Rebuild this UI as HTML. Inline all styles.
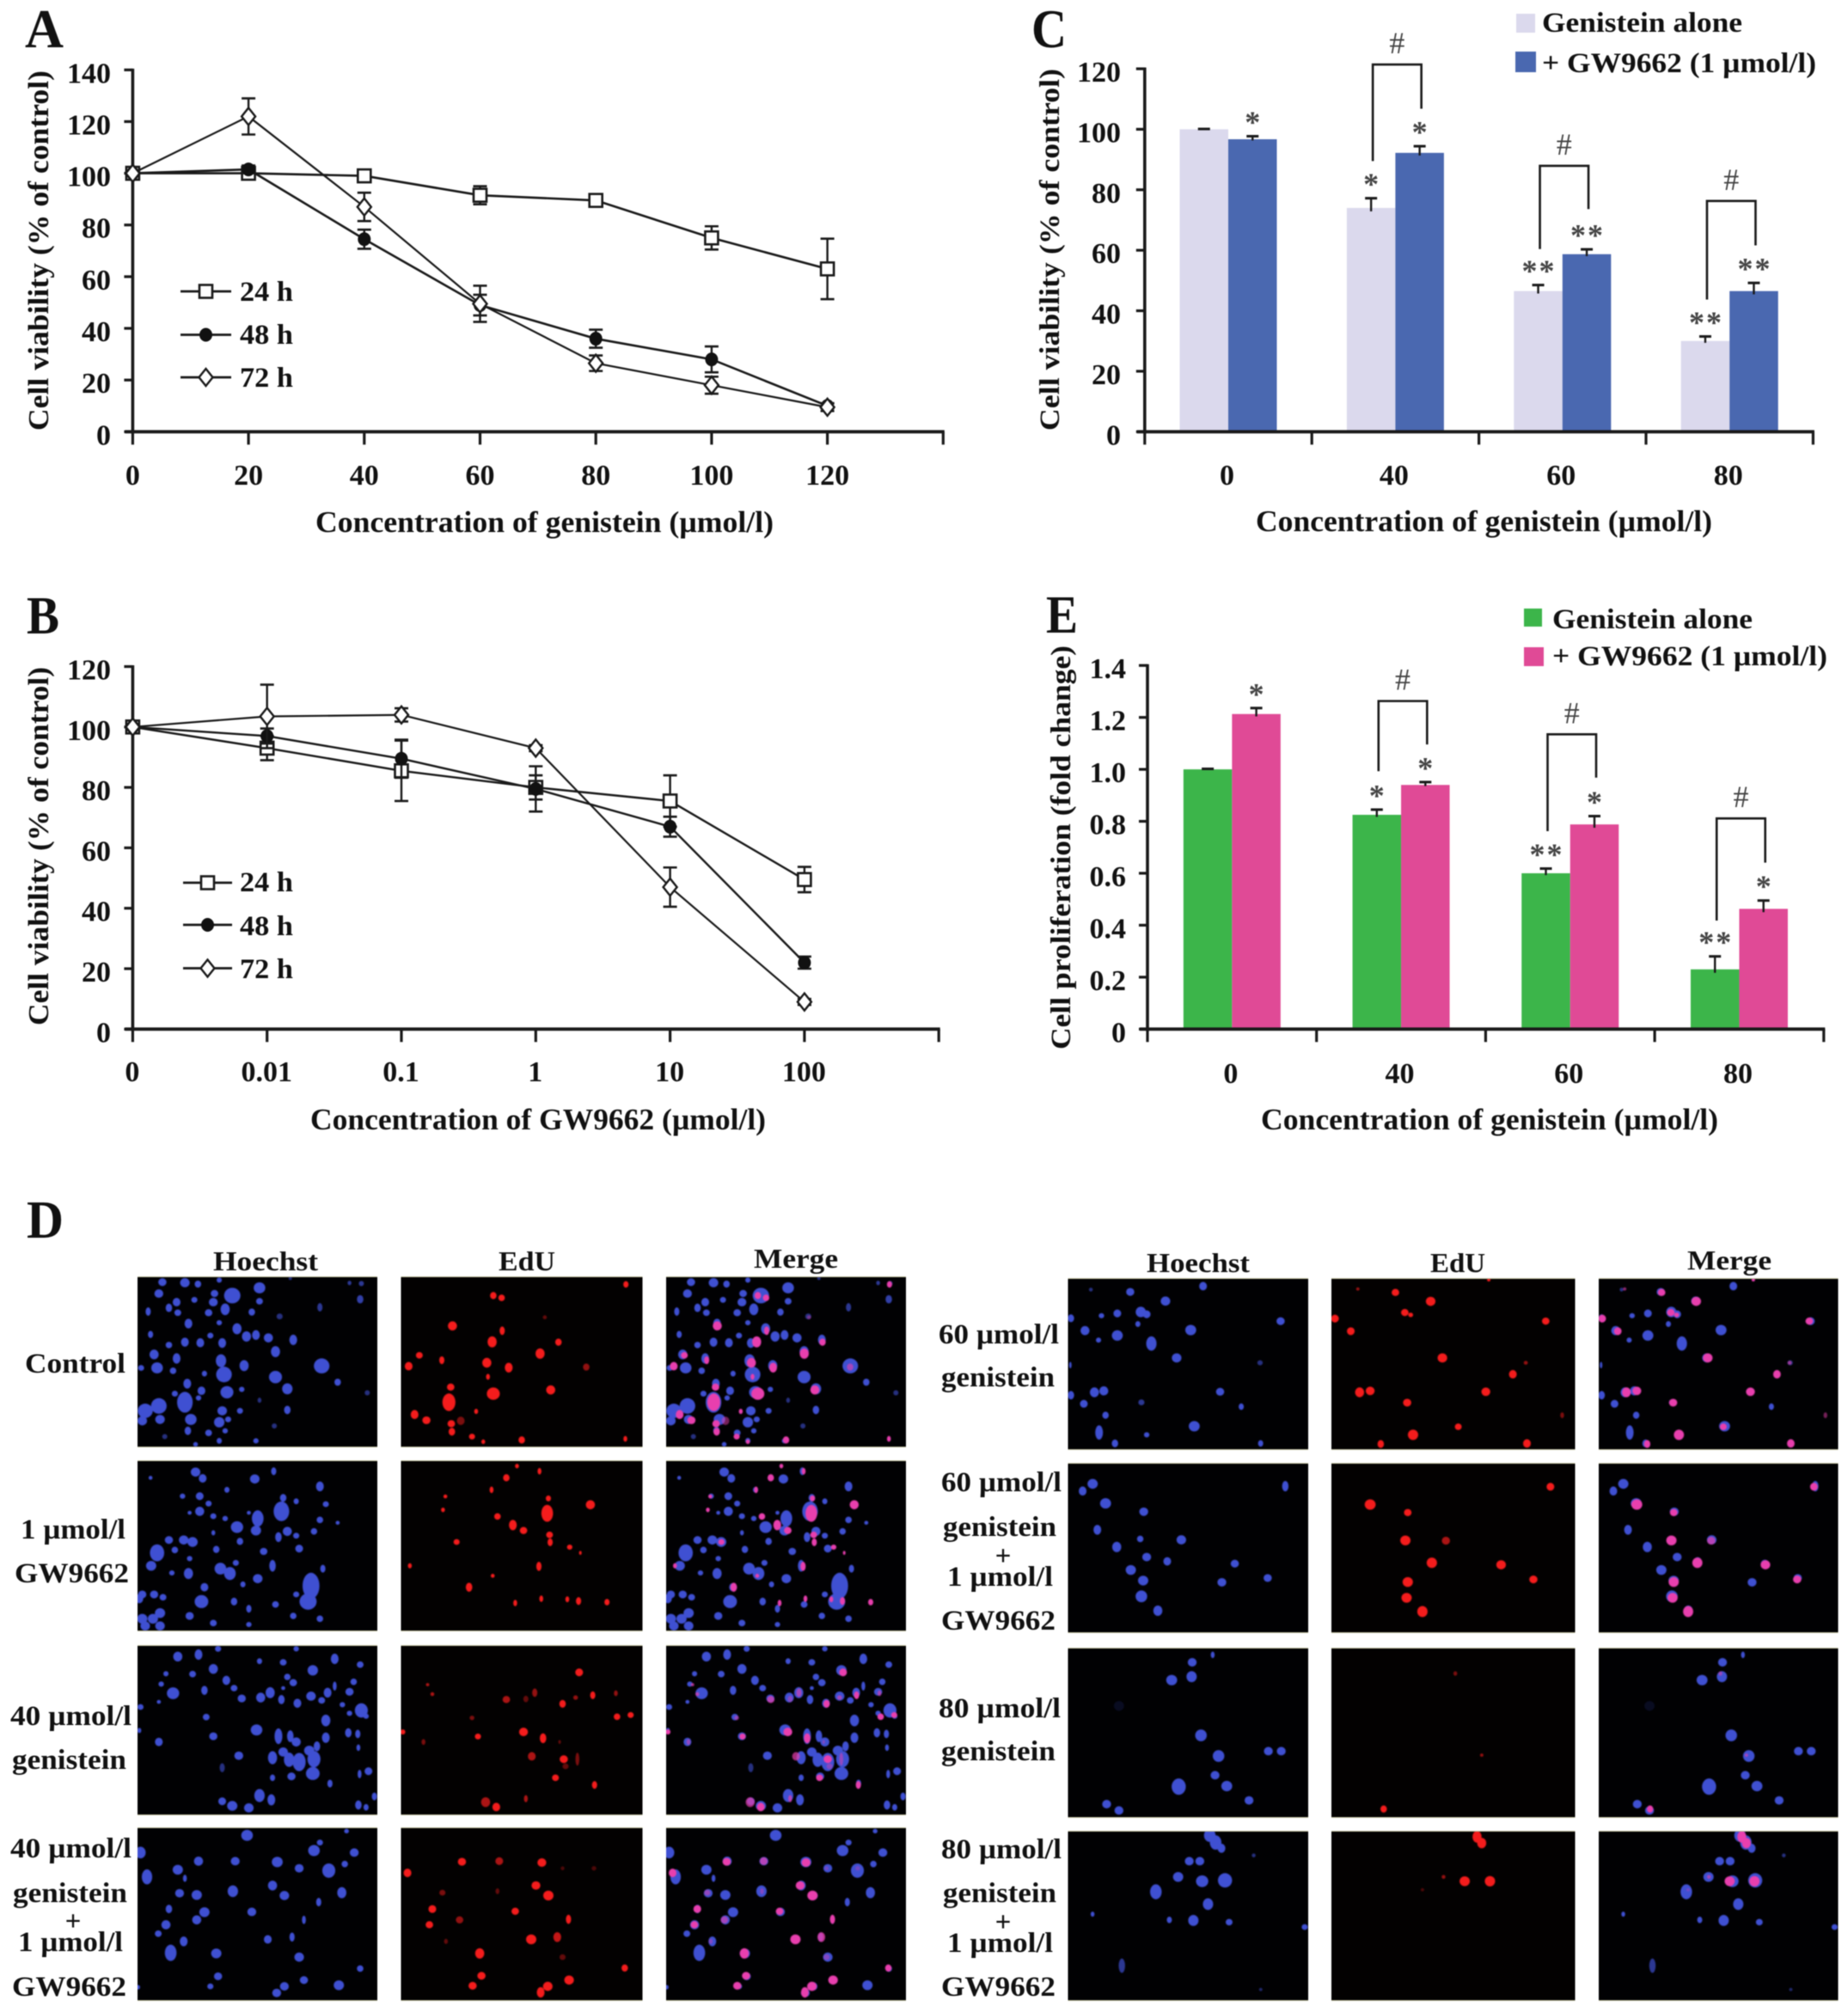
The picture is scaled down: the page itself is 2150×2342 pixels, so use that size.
<!DOCTYPE html>
<html lang="en">
<head>
<meta charset="utf-8">
<title>Genistein and GW9662 cell viability figure</title>
<style>
html,body{margin:0;padding:0;background:#fff;}
svg{display:block;}
#fig{filter:blur(0.45px);}
text{font-family:"Liberation Serif",serif;font-weight:bold;fill:#111;}
</style>
</head>
<body>
<svg id="fig" xmlns="http://www.w3.org/2000/svg" width="2150" height="2342" viewBox="0 0 2150 2342">
<rect x="0" y="0" width="2150" height="2342" fill="#fff"/>

<!-- Panel letters -->
<text x="29" y="55" font-size="64" textLength="45" lengthAdjust="spacingAndGlyphs">A</text>
<text x="31" y="737" font-size="62" textLength="38" lengthAdjust="spacingAndGlyphs">B</text>
<text x="1200" y="55" font-size="64" textLength="41" lengthAdjust="spacingAndGlyphs">C</text>
<text x="1217" y="736" font-size="62" textLength="37" lengthAdjust="spacingAndGlyphs">E</text>
<text x="31" y="1440" font-size="62" textLength="43" lengthAdjust="spacingAndGlyphs">D</text>

<!-- Axis titles -->
<text x="367" y="619" font-size="35" textLength="533" lengthAdjust="spacingAndGlyphs">Concentration of genistein (µmol/l)</text>
<text transform="translate(56,501) rotate(-90)" font-size="34" textLength="419" lengthAdjust="spacingAndGlyphs">Cell viability (% of control)</text>
<text x="361" y="1314" font-size="35" textLength="530" lengthAdjust="spacingAndGlyphs">Concentration of GW9662 (µmol/l)</text>
<text transform="translate(56,1193) rotate(-90)" font-size="34" textLength="417" lengthAdjust="spacingAndGlyphs">Cell viability (% of control)</text>
<text x="1461" y="618" font-size="35" textLength="531" lengthAdjust="spacingAndGlyphs">Concentration of genistein (µmol/l)</text>
<text transform="translate(1232,501) rotate(-90)" font-size="33" textLength="421" lengthAdjust="spacingAndGlyphs">Cell viability (% of control)</text>
<text x="1467" y="1314" font-size="35" textLength="532" lengthAdjust="spacingAndGlyphs">Concentration of genistein (µmol/l)</text>
<text transform="translate(1245,1221) rotate(-90)" font-size="33" textLength="470" lengthAdjust="spacingAndGlyphs">Cell proliferation (fold change)</text>

<!-- Bar chart legends -->
<rect x="1764" y="16" width="22" height="22" fill="#dbd9ed"/>
<text x="1794" y="37" font-size="33" textLength="233" lengthAdjust="spacingAndGlyphs">Genistein alone</text>
<rect x="1763" y="60" width="24" height="24" fill="#4a68b0"/>
<text x="1794" y="84" font-size="33" textLength="319" lengthAdjust="spacingAndGlyphs">+ GW9662 (1 µmol/l)</text>
<rect x="1773" y="708" width="21" height="21" fill="#3cb54a"/>
<text x="1806" y="731" font-size="33" textLength="233" lengthAdjust="spacingAndGlyphs">Genistein alone</text>
<rect x="1773" y="753" width="23" height="22" fill="#e04a96"/>
<text x="1806" y="774" font-size="33" textLength="320" lengthAdjust="spacingAndGlyphs">+ GW9662 (1 µmol/l)</text>

<!-- Line chart legend labels -->
<text x="279" y="350" font-size="33" textLength="62" lengthAdjust="spacingAndGlyphs">24 h</text>
<text x="279" y="400" font-size="33" textLength="62" lengthAdjust="spacingAndGlyphs">48 h</text>
<text x="279" y="450" font-size="33" textLength="62" lengthAdjust="spacingAndGlyphs">72 h</text>
<text x="279" y="1037" font-size="33" textLength="62" lengthAdjust="spacingAndGlyphs">24 h</text>
<text x="279" y="1088" font-size="33" textLength="62" lengthAdjust="spacingAndGlyphs">48 h</text>
<text x="279" y="1138" font-size="33" textLength="62" lengthAdjust="spacingAndGlyphs">72 h</text>

<!-- Micrograph column headers -->
<text x="248" y="1478" font-size="32" textLength="122" lengthAdjust="spacingAndGlyphs">Hoechst</text>
<text x="580" y="1478" font-size="32" textLength="66" lengthAdjust="spacingAndGlyphs">EdU</text>
<text x="877" y="1475" font-size="32" textLength="98" lengthAdjust="spacingAndGlyphs">Merge</text>
<text x="1334" y="1480" font-size="32" textLength="120" lengthAdjust="spacingAndGlyphs">Hoechst</text>
<text x="1664" y="1480" font-size="32" textLength="64" lengthAdjust="spacingAndGlyphs">EdU</text>
<text x="1963" y="1477" font-size="32" textLength="98" lengthAdjust="spacingAndGlyphs">Merge</text>

<!-- Micrograph row labels, left -->
<text x="29" y="1597" font-size="33" textLength="117" lengthAdjust="spacingAndGlyphs">Control</text>
<text x="24" y="1790" font-size="33" textLength="122" lengthAdjust="spacingAndGlyphs">1 µmol/l</text>
<text x="17" y="1841" font-size="33" textLength="133" lengthAdjust="spacingAndGlyphs">GW9662</text>
<text x="12" y="2007" font-size="33" textLength="141" lengthAdjust="spacingAndGlyphs">40 µmol/l</text>
<text x="14" y="2058" font-size="33" textLength="133" lengthAdjust="spacingAndGlyphs">genistein</text>
<text x="12" y="2161" font-size="33" textLength="141" lengthAdjust="spacingAndGlyphs">40 µmol/l</text>
<text x="15" y="2213" font-size="33" textLength="133" lengthAdjust="spacingAndGlyphs">genistein</text>
<text x="85" y="2246" font-size="33" text-anchor="middle">+</text>
<text x="21" y="2270" font-size="33" textLength="122" lengthAdjust="spacingAndGlyphs">1 µmol/l</text>
<text x="14" y="2322" font-size="33" textLength="133" lengthAdjust="spacingAndGlyphs">GW9662</text>

<!-- Micrograph row labels, right -->
<text x="1092" y="1563" font-size="33" textLength="140" lengthAdjust="spacingAndGlyphs">60 µmol/l</text>
<text x="1095" y="1613" font-size="33" textLength="132" lengthAdjust="spacingAndGlyphs">genistein</text>
<text x="1095" y="1735" font-size="33" textLength="140" lengthAdjust="spacingAndGlyphs">60 µmol/l</text>
<text x="1097" y="1787" font-size="33" textLength="132" lengthAdjust="spacingAndGlyphs">genistein</text>
<text x="1167" y="1821" font-size="33" text-anchor="middle">+</text>
<text x="1102" y="1845" font-size="33" textLength="123" lengthAdjust="spacingAndGlyphs">1 µmol/l</text>
<text x="1095" y="1896" font-size="33" textLength="133" lengthAdjust="spacingAndGlyphs">GW9662</text>
<text x="1092" y="1998" font-size="33" textLength="142" lengthAdjust="spacingAndGlyphs">80 µmol/l</text>
<text x="1095" y="2048" font-size="33" textLength="133" lengthAdjust="spacingAndGlyphs">genistein</text>
<text x="1095" y="2162" font-size="33" textLength="140" lengthAdjust="spacingAndGlyphs">80 µmol/l</text>
<text x="1097" y="2213" font-size="33" textLength="132" lengthAdjust="spacingAndGlyphs">genistein</text>
<text x="1167" y="2247" font-size="33" text-anchor="middle">+</text>
<text x="1102" y="2271" font-size="33" textLength="123" lengthAdjust="spacingAndGlyphs">1 µmol/l</text>
<text x="1095" y="2322" font-size="33" textLength="133" lengthAdjust="spacingAndGlyphs">GW9662</text>
</svg>

<script>
// ---------- Chart A data ----------
const aXLabels = ['0','20','40','60','80','100','120'];
const aYTicks = [0,20,40,60,80,100,120,140];
const a24 = [100,100,99,91.5,89.5,75,63];
const a24Err = [0,1,1.5,3.5,1.5,4.5,11.7];
const a48 = [100,101.5,74.5,49,36,28,10];
const a48Err = [0,1.5,3.7,4,3.5,5,1];
const a72 = [100,122,87,49.5,26.5,18,9.5];
const a72Err = [0,7,5.5,7,3,3.3,1.5];

// ---------- Chart B data ----------
const bXLabels = ['0','0.01','0.1','1','10','100'];
const bYTicks = [0,20,40,60,80,100,120];
const b24 = [100,93,85.5,80,75.5,49.5];
const b24Err = [0,4,10,4,8.5,4.2];
const b48 = [100,97,89.5,79.5,67,22];
const b48Err = [0,2.5,6.3,7.5,3.3,2];
const b72 = [100,103.5,104,93,47,9];
const b72Err = [0,10.5,2.2,1,6.5,1];

// ---------- Chart C data ----------
const cXLabels = ['0','40','60','80'];
const cYTicks = [0,20,40,60,80,100,120];
const cAlone = [100,74,46.5,30];
const cAloneErr = [0.1,3.2,2,1.5];
const cCombo = [96.7,92.2,58.7,46.5];
const cComboErr = [1,2.2,1.6,2.7];
const cAloneStars = ['','*','**','**'];
const cComboStars = ['*','*','**','**'];
const cBracketTop = [null,121.4,87.9,76.3];
const cBracketLeft = [null,89.5,60.4,43.7];
const cBracketRight = [null,106.8,73.6,61.6];

// ---------- Chart E data ----------
const eXLabels = ['0','40','60','80'];
const eYTicks = [0,0.2,0.4,0.6,0.8,1.0,1.2,1.4];
const eYLabels = ['0','0.2','0.4','0.6','0.8','1.0','1.2','1.4'];
const eAlone = [1.0,0.825,0.6,0.23];
const eAloneErr = [0.002,0.02,0.018,0.05];
const eCombo = [1.213,0.94,0.788,0.463];
const eComboErr = [0.023,0.011,0.032,0.032];
const eAloneStars = ['','*','**','**'];
const eComboStars = ['*','*','*','*'];
const eBracketTop = [null,1.263,1.135,0.811];
const eBracketLeft = [null,0.993,0.762,0.418];
const eBracketRight = [null,1.096,0.968,0.641];

// ---------- Micrograph nuclei: [x, y, rx, ry, opacity?] ----------
const ctrlBlue = [[274,305,8,12],[312,307,9,14],[334,312,5,11],[370,298,4,8],[268,345,7,13],[438,325,10,17],[362,345,7,11],[392,352,15,24],[360,375,8,13],[298,375,6,13],[328,367,10,9],[438,372,6,10],[380,400,7,18],[285,395,5,13],[250,408,4,13],[300,412,7,10],[352,412,6,11],[425,410,5,11],[472,425,7,9,.6],[540,393,4,13,.7],[608,365,5,13,.8],[610,310,4,8,.7],[590,308,3,7,.7],[490,292,5,5,.6],[318,450,6,15],[400,468,7,17],[370,447,5,8],[254,488,4,11],[375,518,6,15],[355,492,5,9],[416,495,7,16],[432,490,6,15],[453,500,7,14],[495,507,6,16],[285,525,5,10],[312,515,6,14],[338,517,6,14],[465,548,7,17],[260,558,7,15],[298,572,6,16],[373,580,8,20],[412,597,7,17],[543,598,12,23],[238,605,5,9],[265,605,11,17],[292,615,5,10],[378,628,12,24],[465,637,10,19],[345,625,4,9],[570,655,5,11],[316,660,6,15],[485,678,8,17],[340,685,6,13],[383,690,13,19],[408,680,8,8],[295,695,10,9],[312,725,12,32],[268,738,12,24],[245,755,13,22],[335,710,5,8],[375,755,9,14],[405,755,8,9],[485,752,5,13],[620,692,4,8,.6],[438,718,3,8,.6],[270,785,9,14],[240,790,8,14],[322,785,10,17],[370,795,8,16],[385,785,8,9],[317,825,5,13],[352,832,6,10],[380,825,5,8],[432,860,5,8],[370,860,4,9],[330,872,5,7],[463,808,4,8,.6],[278,845,4,8,.6]];
const ctrlRed = [[1057,313,4,10],[833,352,5,11],[847,360,5,10],[920,428,6,6,.4],[764,458,7,14],[848,475,4,13],[831,514,7,17],[943,515,5,11],[912,555,7,16],[708,561,6,10],[746,578,4,12],[822,587,7,15],[690,599,6,13],[859,604,6,15],[990,602,5,11,.6],[824,636,3,9],[761,672,6,11],[930,682,7,14],[833,695,11,19],[758,725,10,27],[700,768,6,14],[720,788,7,12],[804,757,3,8],[778,790,6,13,.5],[762,800,6,11],[763,828,5,12],[797,845,6,9],[881,857,5,11],[1056,853,3,9],[816,863,3,7]];
const gwBlue = [[330,968,9,14],[342,990,6,13],[254,988,3,6],[430,992,11,14],[462,965,4,12],[540,1018,6,15],[383,1030,4,9],[337,1052,6,12],[308,1052,5,8],[478,1058,5,12],[352,1078,7,9],[500,1070,4,9],[337,1105,7,14],[550,1080,7,9],[475,1105,12,30],[320,1110,5,6],[360,1122,5,9],[435,1130,9,25],[420,1110,6,6],[540,1135,5,10],[570,1145,5,6],[400,1160,12,18],[380,1130,6,8],[432,1172,12,15],[485,1175,7,14],[530,1175,5,10],[285,1205,14,12],[310,1205,10,14],[325,1212,14,15],[470,1195,5,15],[405,1210,5,11],[360,1180,3,8],[265,1250,11,26],[295,1240,5,10],[365,1238,5,11],[445,1245,6,11],[505,1235,6,12],[500,1190,5,9],[255,1295,8,15],[320,1270,6,8],[398,1285,6,9],[460,1295,5,18],[290,1320,5,8],[545,1305,4,12],[372,1305,9,18],[388,1322,9,20],[318,1322,7,17],[435,1340,9,14],[345,1370,6,13],[525,1365,13,40],[500,1395,6,9],[410,1360,4,9],[240,1395,9,12],[260,1395,9,12],[275,1405,9,10],[235,1410,6,14],[340,1420,14,20],[395,1420,5,12],[465,1430,6,10],[520,1420,15,25],[420,1445,4,12],[270,1460,10,15],[240,1480,8,15],[258,1480,8,15],[320,1470,8,12],[495,1470,5,10],[360,1495,6,10],[245,1505,12,14],[270,1505,12,14],[540,1480,5,10],[420,1500,6,8]];
const gwRed = [[873,947,3,7],[911,965,3,10],[855,988,5,11],[830,1030,3,10],[752,1053,3,6],[926,1060,4,9],[997,1082,7,14],[748,1100,3,7],[924,1112,9,26],[840,1123,5,10],[866,1153,6,16],[884,1172,6,11],[928,1187,6,10],[771,1212,7,9],[929,1213,4,12],[962,1230,5,8],[980,1250,2,6],[692,1295,3,8],[910,1297,4,14],[832,1330,3,6],[792,1370,5,14],[870,1425,3,10],[914,1410,3,10],[958,1412,3,9],[977,1418,4,12],[1025,1422,4,10]];
const g40Blue = [[300,112,7,15],[335,105,6,16],[368,85,6,9],[438,128,4,9],[500,85,6,8],[565,120,6,16],[478,132,7,10],[608,140,6,10],[528,160,8,16],[360,155,7,15],[325,173,9,10],[382,195,6,14],[485,183,5,10],[495,203,8,11],[280,172,4,8],[272,208,9,8],[395,222,7,10],[292,240,12,18],[345,230,5,14],[456,238,7,17],[440,255,7,15],[408,258,8,12],[478,222,5,6],[475,262,5,14],[502,275,6,14],[525,250,8,14],[553,238,6,15],[543,265,6,10],[565,215,3,14],[590,235,8,12],[597,200,5,10],[578,280,5,8],[268,270,6,6],[237,288,5,9],[610,300,10,22],[590,310,5,8],[348,323,12,10],[550,335,7,18],[618,320,5,8],[433,368,10,17],[470,390,6,24],[360,390,8,12],[268,410,6,13],[588,378,5,14],[490,390,5,18],[550,395,6,16],[604,382,4,13],[235,370,3,8],[500,410,7,14],[535,425,5,15],[605,430,3,10],[403,458,7,13],[478,445,8,14],[460,465,7,20],[488,472,8,22],[505,480,10,28],[522,440,10,15],[530,470,10,25],[375,500,4,14,.6],[528,520,15,20],[492,530,12,12],[460,535,4,10],[622,512,6,12],[607,522,3,13],[557,555,4,12],[438,597,8,20],[375,617,6,12],[392,633,8,15],[420,640,8,14],[458,612,6,17],[605,630,5,14],[618,638,4,10],[632,600,4,12]];
const g40Red = [[978,167,6,12],[722,210,5,5,.7],[730,243,3,6,.7],[855,262,7,11,.7],[903,238,4,13,.6],[888,260,4,10,.4],[950,277,5,12],[1001,247,4,12],[972,255,5,7,.6],[1040,240,3,9,.6],[1042,322,5,10],[1065,316,5,9],[797,326,5,7,.5],[680,375,4,8],[884,375,7,13],[807,391,6,9],[917,397,5,15],[715,410,3,9,.5],[898,460,6,13,.7],[952,470,7,12],[975,470,3,20,.5],[955,495,5,9,.4],[938,535,7,10],[1004,560,4,12],[888,608,3,11,.7],[820,620,7,15,.7],[838,637,6,13],[945,410,2,6,.4]];
const g40gwBlue = [[417,735,10,17],[237,795,8,18],[530,788,10,17],[540,760,6,9],[598,795,7,13],[585,720,4,7],[335,825,7,14],[397,825,7,13],[468,828,9,16],[505,850,9,13],[555,858,10,22],[582,835,5,10],[300,855,8,15],[248,880,8,23],[312,885,3,11],[460,910,7,15],[393,930,8,18],[303,937,7,13],[332,943,8,15],[480,945,9,14],[577,935,7,17],[538,968,4,13],[285,992,5,13],[345,1003,8,15],[425,1002,9,13],[332,1030,7,14],[513,1030,3,13],[280,1047,7,14],[267,1078,9,10],[310,1105,6,15],[452,1098,6,13],[493,1090,4,14],[288,1145,9,25],[365,1147,8,15],[505,1160,10,14],[608,1200,5,10],[368,1227,9,12],[513,1240,11,12],[480,1262,10,13],[467,1285,7,13],[572,1258,8,15],[355,1262,5,9],[233,1265,3,7]];
const g40gwRed = [[780,827,7,12],[843,825,6,12,.7],[915,830,7,13],[688,866,6,13],[905,910,8,13],[926,945,9,15],[747,935,5,9,.5],[840,930,3,9,.4],[950,850,3,6,.3],[1003,850,4,7,.3],[730,992,6,12],[870,1000,7,11],[776,1030,6,11,.6],[960,1028,4,14],[725,1047,7,11],[897,1098,8,15],[941,1090,6,15,.8],[753,1105,3,8,.4],[810,1147,7,16],[950,1160,5,9,.4],[1055,1198,5,11],[813,1225,9,12],[961,1240,13,14],[925,1262,10,14],[913,1283,6,16],[798,1260,8,12]];
const g60Blue = [[344,160,8,12],[468,140,6,13],[277,152,3,6,.6],[404,192,10,14],[243,252,5,12],[295,243,5,8],[322,235,6,12],[362,230,8,16],[372,238,6,12],[357,272,4,9],[600,262,8,12],[267,295,7,14],[322,312,11,16],[447,293,14,16],[290,328,4,8],[380,340,8,22],[423,390,8,14],[242,415,2,10],[565,407,5,8,.6],[283,510,7,15],[299,505,7,14],[243,520,5,13],[497,508,8,12],[265,550,6,12],[363,545,6,9,.7],[533,560,4,10],[302,590,5,11],[453,628,15,16],[291,650,6,22],[372,658,6,8],[318,688,5,12],[566,688,4,10]];
const g60Red = [[796,162,8,11],[856,193,8,14],[732,150,3,5,.6],[955,118,5,5],[812,232,6,11],[822,240,5,7],[693,253,6,12],[1052,262,7,11],[720,297,6,12],[876,390,8,14],[1018,407,5,6,.6],[996,447,6,13],[735,510,7,15],[753,505,7,13],[950,508,8,13],[816,546,10,12],[1080,590,3,9,.5],[903,630,10,10],[826,658,8,16],[771,690,5,12],[1020,688,6,13]];
const g60gwBlue = [[280,830,8,15],[263,855,6,14],[608,838,5,16],[302,898,9,16],[367,927,12,13],[288,990,6,15],[361,1022,5,10],[431,1025,11,14],[321,1050,7,16],[372,1085,8,13],[407,1100,6,13],[522,1108,7,12],[345,1130,8,15],[578,1158,8,12],[500,1173,11,13],[366,1167,8,15],[363,1222,9,18],[391,1272,7,16]];
const g60gwRed = [[1060,840,6,12],[753,902,10,16],[817,930,8,11],[813,1027,10,15],[882,1028,9,12,.7],[858,1105,8,16],[976,1112,9,14],[1031,1163,8,12],[817,1172,8,15],[815,1227,8,15],[842,1275,8,17]];
const g80Blue = [[450,133,7,13],[485,107,3,10],[449,183,8,17],[415,195,9,16],[325,285,8,15,.15],[465,388,9,18],[495,460,9,18],[580,443,9,13],[602,443,9,13],[489,527,9,13],[509,565,11,16],[427,567,11,25],[547,615,9,13],[304,628,10,13],[325,650,7,13]];
const g80Red = [[776,645,5,11],[898,172,3,7,.5],[943,457,3,5,.6]];
const g80gwBlue = [[480,735,9,20],[490,760,9,22],[500,780,6,14],[445,825,9,13],[463,825,9,13],[426,880,14,15],[467,895,15,18],[506,892,11,22],[388,932,9,23],[477,975,8,18],[411,1030,4,10],[452,1032,8,17],[513,1038,8,10],[642,1055,5,9],[280,1010,3,8],[330,1190,5,22,.7],[555,805,3,6,.6],[567,1273,3,5,.5]];
const g80gwRed = [[935,740,7,18],[943,762,7,16],[914,895,8,15],[957,895,8,16],[878,880,3,6,.6],[842,925,3,5,.3]];

const fig = document.getElementById('fig');
const NS = 'http://www.w3.org/2000/svg';
const INK = '#1a1a1a';

function make(tag, name, attrs, parent) {
  const el = document.createElementNS(NS, tag);
  
  
  for (const k in attrs) el.setAttribute(k, attrs[k]);
  (parent || fig).appendChild(el);
  return el;
}
function line(name, x1, y1, x2, y2, w, parent) {
  return make('line', name, {x1, y1, x2, y2, stroke: INK, 'stroke-width': w}, parent);
}
function label(name, x, y, str, size, anchor, parent) {
  const t = make('text', name, {x, y, 'font-size': size, 'text-anchor': anchor}, parent);
  t.textContent = str;
  return t;
}

// ---------- Shared axes ----------
function drawAxes(id, cfg) {
  const g = make('g', id + '-axes', {});
  line(id + '-y-axis', cfg.x0, cfg.y(cfg.yTicks[cfg.yTicks.length - 1]) - 1.5, cfg.x0, cfg.y(0) + 2, 3.6, g);
  line(id + '-x-axis', cfg.x0 - 9, cfg.y(0), cfg.xEnd + 1.5, cfg.y(0), 3.8, g);
  cfg.yTicks.forEach(function (v, i) {
    line(id + '-y-tick', cfg.x0 - 10, cfg.y(v), cfg.x0, cfg.y(v), 3.2, g);
    label(id + '-y-tick-label', cfg.labelRight, cfg.y(v) + 15, cfg.yLabels ? cfg.yLabels[i] : String(v), 34, 'end', g);
  });
  cfg.xTickPositions.forEach(function (x) {
    line(id + '-x-tick', x, cfg.y(0), x, cfg.y(0) + 15, 3.2, g);
  });
  cfg.xLabels.forEach(function (s, i) {
    label(id + '-x-tick-label', cfg.xLabelX(i), cfg.xLabelY, s, 34, 'middle', g);
  });
}

// ---------- Markers ----------
function marker(kind, name, cx, cy, parent) {
  if (kind === 'square') {
    make('rect', name, {x: cx - 7.5, y: cy - 7.5, width: 15, height: 15, fill: '#fff', stroke: INK, 'stroke-width': 2.6}, parent);
  } else if (kind === 'circle') {
    make('ellipse', name, {cx, cy, rx: 7.5, ry: 8, fill: '#111'}, parent);
  } else {
    const pts = [[cx, cy - 10], [cx + 8, cy], [cx, cy + 10], [cx - 8, cy]].map(function (p) { return p.join(','); }).join(' ');
    make('polygon', name, {points: pts, fill: '#fff', stroke: INK, 'stroke-width': 2.4}, parent);
  }
}

// ---------- Line charts ----------
function drawLineSeries(id, sname, kind, values, errs, xf, yf, lw) {
  const g = make('g', id + '-series-' + sname, {});
  const pts = values.map(function (v, i) { return xf(i) + ',' + yf(v); }).join(' ');
  make('polyline', id + '-line-' + sname, {points: pts, fill: 'none', stroke: INK, 'stroke-width': lw}, g);
  values.forEach(function (v, i) {
    if (errs[i] > 0) {
      const top = yf(v + errs[i]);
      const bot = yf(v - errs[i]);
      line(id + '-error-stem-' + sname, xf(i), top, xf(i), bot, 2.4, g);
      line(id + '-error-cap-' + sname, xf(i) - 8, top, xf(i) + 8, top, 2.6, g);
      line(id + '-error-cap-' + sname, xf(i) - 8, bot, xf(i) + 8, bot, 2.6, g);
    }
  });
  values.forEach(function (v, i) {
    marker(kind, id + '-point-' + sname, xf(i), yf(v), g);
  });
}
function drawLineLegend(id, x1, x2, ys) {
  const kinds = ['square', 'circle', 'diamond'];
  const names = ['24h', '48h', '72h'];
  ys.forEach(function (y, i) {
    const g = make('g', id + '-legend-key-' + names[i], {});
    line(id + '-legend-line-' + names[i], x1, y, x2, y, 2.8, g);
    marker(kinds[i], id + '-legend-marker-' + names[i], (x1 + x2) / 2, y, g);
  });
}

// Chart A
const aX = function (i) { return 154.4 + 134.7 * i; };
const aY = function (v) { return 502.3 - 3.007 * v; };
drawAxes('chart-a', {x0: 154.4, xEnd: aX(7), y: aY, yTicks: aYTicks, labelRight: 129,
  xTickPositions: aXLabels.concat(['']).map(function (_, i) { return aX(i); }),
  xLabels: aXLabels, xLabelX: aX, xLabelY: 564});
drawLineSeries('chart-a', '24h', 'square', a24, a24Err, aX, aY, 2.6);
drawLineSeries('chart-a', '48h', 'circle', a48, a48Err, aX, aY, 2.6);
drawLineSeries('chart-a', '72h', 'diamond', a72, a72Err, aX, aY, 2.2);
drawLineLegend('chart-a', 210, 269, [339, 389.5, 439]);

// Chart B
const bX = function (i) { return 154.4 + 156.3 * i; };
const bY = function (v) { return 1197.3 - 3.515 * v; };
drawAxes('chart-b', {x0: 154.4, xEnd: bX(6), y: bY, yTicks: bYTicks, labelRight: 129,
  xTickPositions: bXLabels.concat(['']).map(function (_, i) { return bX(i); }),
  xLabels: bXLabels, xLabelX: function (i) { return bX(i) - 0.5; }, xLabelY: 1258});
drawLineSeries('chart-b', '24h', 'square', b24, b24Err, bX, bY, 2.4);
drawLineSeries('chart-b', '48h', 'circle', b48, b48Err, bX, bY, 2.4);
drawLineSeries('chart-b', '72h', 'diamond', b72, b72Err, bX, bY, 2.2);
drawLineLegend('chart-b', 213, 270, [1027, 1076, 1126.5]);

// ---------- Bar charts ----------
function drawBars(id, cfg) {
  const g = make('g', id + '-bars', {});
  const bw = cfg.barWidth;
  const centers = cfg.aloneVals.map(function (_, i) { return cfg.x0 + cfg.step * (i + 0.5); });
  cfg.aloneVals.forEach(function (v, i) {
    make('rect', id + '-bar-alone', {x: centers[i] - bw, y: cfg.y(v), width: bw, height: cfg.y(0) - cfg.y(v), fill: cfg.aloneColor}, g);
  });
  cfg.comboVals.forEach(function (v, i) {
    make('rect', id + '-bar-combo', {x: centers[i], y: cfg.y(v), width: bw, height: cfg.y(0) - cfg.y(v), fill: cfg.comboColor}, g);
  });
  function errors(vals, errs, stars, offset, sname) {
    vals.forEach(function (v, i) {
      const cx = centers[i] + offset;
      const top = cfg.y(v + errs[i]);
      const low = cfg.y(v) + Math.min(4, (cfg.y(v) - top) * 0.4);
      line(id + '-error-stem-' + sname, cx, top, cx, low, 2.4, g);
      line(id + '-error-cap-' + sname, cx - 7, top, cx + 7, top, 3, g);
      if (stars[i]) {
        const st = label(id + '-significance-' + sname, cx + 1, top - 21.5 + 17, stars[i], 36, 'middle', g);
        st.style.fill = '#444';
        st.style.letterSpacing = '2px';
      }
    });
  }
  errors(cfg.aloneVals, cfg.aloneErrs, cfg.aloneStars, -bw / 2, 'alone');
  errors(cfg.comboVals, cfg.comboErrs, cfg.comboStars, bw / 2, 'combo');
  cfg.bracketTop.forEach(function (t, i) {
    if (t === null) return;
    const lx = centers[i] - bw / 2 + 2;
    const rx = centers[i] + bw / 2 + 2;
    const p = 'M' + lx + ' ' + cfg.y(cfg.bracketLeft[i]) + 'V' + cfg.y(t) + 'H' + rx + 'V' + cfg.y(cfg.bracketRight[i]);
    make('path', id + '-bracket', {d: p, fill: 'none', stroke: INK, 'stroke-width': 2.6}, g);
    const h = label(id + '-hash', (lx + rx) / 2, cfg.y(t) - 13, '#', 36, 'middle', g);
    h.style.fontWeight = 'normal';
    h.style.fill = '#444';
  });
}

// Chart C
const cStep = 194.4;
const cY = function (v) { return 502.3 - 3.519 * v; };
drawBars('chart-c', {x0: 1331.8, step: cStep, y: cY, barWidth: 56.5,
  aloneVals: cAlone, aloneErrs: cAloneErr, aloneStars: cAloneStars, aloneColor: '#dbd9ed',
  comboVals: cCombo, comboErrs: cComboErr, comboStars: cComboStars, comboColor: '#4a68b0',
  bracketTop: cBracketTop, bracketLeft: cBracketLeft, bracketRight: cBracketRight});
drawAxes('chart-c', {x0: 1331.8, xEnd: 1331.8 + 4 * cStep, y: cY, yTicks: cYTicks, labelRight: 1304,
  xTickPositions: [0, 1, 2, 3, 4].map(function (i) { return 1331.8 + cStep * i; }),
  xLabels: cXLabels, xLabelX: function (i) { return 1331.8 + cStep * (i + 0.5) - 1.5; }, xLabelY: 564});

// Chart E
const eStep = 196.7;
const eY = function (v) { return 1197.3 - 302.2 * v; };
drawBars('chart-e', {x0: 1335, step: eStep, y: eY, barWidth: 56.5,
  aloneVals: eAlone, aloneErrs: eAloneErr, aloneStars: eAloneStars, aloneColor: '#3cb54a',
  comboVals: eCombo, comboErrs: eComboErr, comboStars: eComboStars, comboColor: '#e04a96',
  bracketTop: eBracketTop, bracketLeft: eBracketLeft, bracketRight: eBracketRight});
drawAxes('chart-e', {x0: 1335, xEnd: 1335 + 4 * eStep, y: eY, yTicks: eYTicks, yLabels: eYLabels, labelRight: 1310,
  xTickPositions: [0, 1, 2, 3, 4].map(function (i) { return 1335 + eStep * i; }),
  xLabels: eXLabels, xLabelX: function (i) { return 1335 + eStep * (i + 0.5) - 1.5; }, xLabelY: 1260});

// ---------- Micrographs ----------
const BLUE = '#3f50d2';
const RED = '#f41c1c';
const MAGENTA = '#e83fae';
const leftCols = [{x: 160, w: 279}, {x: 466.5, w: 281}, {x: 775, w: 279}];
const rightCols = [{x: 1242.5, w: 279.5}, {x: 1549, w: 283.5}, {x: 1860, w: 278.5}];

function nuclei(name, list, srcX, srcW, srcY, srcH, w, h, color, parent) {
  list.forEach(function (n) {
    const ry = n[3] / srcH * h * 1.14;
    const rx = Math.min(n[2] / srcW * w * 1.1, ry * 1.05);
    make('ellipse', name, {
      cx: (n[0] - srcX) / srcW * w,
      cy: (n[1] - srcY) / srcH * h,
      rx: rx,
      ry: ry,
      fill: color,
      opacity: n.length > 4 ? n[4] : 1
    }, parent);
  });
}
function panel(name, col, y, h) {
  make('rect', name + '-frame', {x: col.x, y: y - 1, width: col.w, height: h + 2, fill: '#bdbc9c'});
  return make('svg', name, {x: col.x, y: y, width: col.w, height: h, viewBox: '0 0 ' + col.w + ' ' + h});
}
function drawRow(rowName, cols, y, h, src, blue, red) {
  const p1 = panel(rowName + '-hoechst-panel', cols[0], y, h);
  make('rect', 'panel-background', {x: 0, y: 0, width: cols[0].w, height: h, fill: '#010103'}, p1);
  const g1 = make('g', 'hoechst-nuclei', {style: 'filter:blur(0.6px)'}, p1);
  nuclei('nucleus-blue', blue, src.bx, src.bw, src.y, src.h, cols[0].w, h, BLUE, g1);

  const p2 = panel(rowName + '-edu-panel', cols[1], y, h);
  make('rect', 'panel-background', {x: 0, y: 0, width: cols[1].w, height: h, fill: '#030101'}, p2);
  const g2 = make('g', 'edu-nuclei', {style: 'filter:blur(0.6px)'}, p2);
  nuclei('nucleus-red', red, src.rx, src.rw, src.y, src.h, cols[1].w, h, RED, g2);

  const p3 = panel(rowName + '-merge-panel', cols[2], y, h);
  make('rect', 'panel-background', {x: 0, y: 0, width: cols[2].w, height: h, fill: '#010103'}, p3);
  const g3 = make('g', 'merge-nuclei', {style: 'filter:blur(0.6px)'}, p3);
  nuclei('nucleus-blue', blue, src.bx, src.bw, src.y, src.h, cols[2].w, h, BLUE, g3);
  nuclei('nucleus-merged', red, src.rx, src.rw, src.y, src.h, cols[2].w, h, MAGENTA, g3);
}

drawRow('control', leftCols, 1486, 197, {bx: 232, bw: 405, rx: 677, rw: 408, y: 288, h: 592}, ctrlBlue, ctrlRed);
drawRow('gw9662', leftCols, 1700, 197, {bx: 232, bw: 405, rx: 677, rw: 408, y: 930, h: 591}, gwBlue, gwRed);
drawRow('genistein-40', leftCols, 1915, 196, {bx: 232, bw: 405, rx: 677, rw: 408, y: 75, h: 588}, g40Blue, g40Red);
drawRow('genistein-40-gw', leftCols, 2127, 200, {bx: 232, bw: 405, rx: 677, rw: 408, y: 710, h: 600}, g40gwBlue, g40gwRed);
drawRow('genistein-60', rightCols, 1488, 198, {bx: 238, bw: 409, rx: 687, rw: 415, y: 115, h: 593}, g60Blue, g60Red);
drawRow('genistein-60-gw', rightCols, 1703, 196, {bx: 238, bw: 409, rx: 687, rw: 415, y: 760, h: 587}, g60gwBlue, g60gwRed);
drawRow('genistein-80', rightCols, 1918, 196, {bx: 238, bw: 410, rx: 687, rw: 415, y: 85, h: 588}, g80Blue, g80Red);
drawRow('genistein-80-gw', rightCols, 2131, 196, {bx: 238, bw: 410, rx: 687, rw: 415, y: 722, h: 588}, g80gwBlue, g80gwRed);
</script>
</body>
</html>
